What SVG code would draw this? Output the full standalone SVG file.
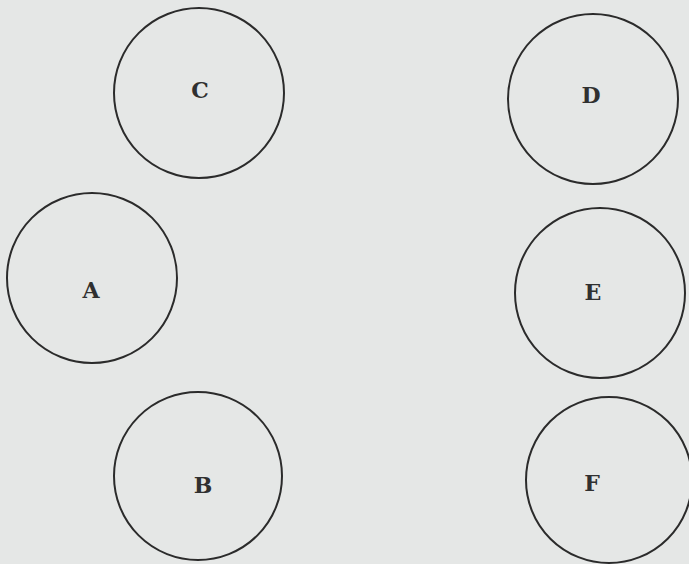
<svg xmlns="http://www.w3.org/2000/svg" width="689" height="564" viewBox="0 0 689 564">
<style>
.node circle{fill:none;stroke:#2b2b2b;stroke-width:2}
.node text{font-family:"DejaVu Serif","Liberation Serif",serif;font-weight:bold;font-size:22px;fill:#303030;text-anchor:middle;dominant-baseline:central}
</style>
<rect width="689" height="564" fill="#e5e7e6"/>
<g id="connectors"></g>
<g id="C" class="node"><circle cx="199" cy="93" r="85"/><text x="200" y="90">C</text></g>
<g id="D" class="node"><circle cx="593" cy="99" r="85"/><text x="591" y="95">D</text></g>
<g id="A" class="node"><circle cx="92" cy="278" r="85"/><text x="91" y="290">A</text></g>
<g id="E" class="node"><circle cx="600" cy="293" r="85"/><text x="593" y="292">E</text></g>
<g id="B" class="node"><circle cx="198" cy="476" r="84"/><text x="203" y="485">B</text></g>
<g id="F" class="node"><circle cx="609" cy="480" r="83"/><text x="592" y="483">F</text></g>
</svg>
